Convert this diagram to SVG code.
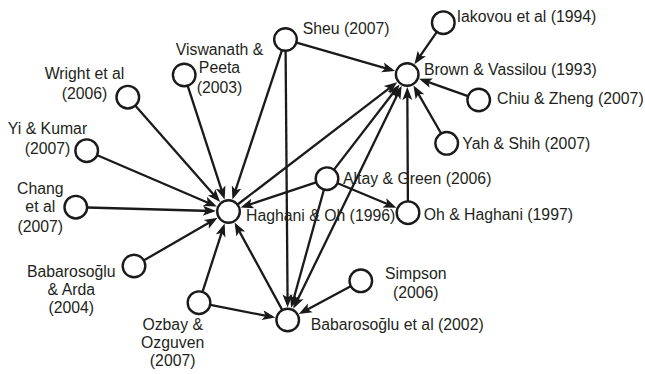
<svg xmlns="http://www.w3.org/2000/svg" width="645" height="374" viewBox="0 0 645 374">
<defs>
<marker id="ah" markerUnits="userSpaceOnUse" markerWidth="14" markerHeight="10" refX="9" refY="5" orient="auto-start-reverse" overflow="visible">
<path d="M0,0 L13,5 L0,10 L3,5 Z" fill="#1a1a1a"/>
</marker>
<style>
.edges line{stroke:#1a1a1a;stroke-width:2.3;fill:none;marker-end:url(#ah)}
.edges line.both{marker-start:url(#ah)}
.node circle{fill:#fff;stroke:#1a1a1a;stroke-width:2.4}
.node text{font-family:"Liberation Sans",Arial,Helvetica,sans-serif;font-size:15.8px;fill:#231f20}
.node text.c{text-anchor:middle}
</style>
</defs>
<rect width="645" height="374" fill="#fff"/>
<g id="connectors" class="edges">
<line x1="436.7" y1="32.1" x2="416.7" y2="60.9"/>
<line x1="296.6" y1="42.7" x2="391.2" y2="69.9"/>
<line x1="467.9" y1="96.1" x2="422.8" y2="80.1"/>
<line x1="441.0" y1="133.3" x2="415.5" y2="88.9"/>
<line x1="407.9" y1="201.2" x2="407.3" y2="91.1"/>
<line x1="334.0" y1="169.6" x2="397.1" y2="87.7"/>
<line x1="237.6" y1="204.5" x2="394.0" y2="84.6"/>
<line class="both" x1="295.0" y1="305.1" x2="399.9" y2="89.4"/>
<line x1="337.6" y1="183.2" x2="392.7" y2="206.3"/>
<line x1="316.1" y1="182.3" x2="244.3" y2="206.3"/>
<line x1="323.9" y1="189.8" x2="292.2" y2="304.0"/>
<line x1="281.9" y1="50.4" x2="233.7" y2="195.7"/>
<line x1="285.6" y1="51.0" x2="287.6" y2="303.4"/>
<line x1="187.7" y1="85.9" x2="223.4" y2="195.7"/>
<line x1="135.4" y1="105.8" x2="217.5" y2="199.0"/>
<line x1="97.3" y1="155.2" x2="213.2" y2="205.0"/>
<line x1="87.3" y1="207.5" x2="211.9" y2="211.0"/>
<line x1="144.0" y1="260.3" x2="214.1" y2="219.8"/>
<line x1="202.5" y1="291.8" x2="223.4" y2="227.3"/>
<line x1="210.3" y1="304.9" x2="271.4" y2="316.8"/>
<line x1="282.2" y1="309.9" x2="236.5" y2="226.1"/>
<line x1="350.7" y1="286.2" x2="302.3" y2="312.2"/>
</g>
<g id="sheu" class="node"><circle cx="285.5" cy="39.5" r="11.3"/><text x="302.7" y="34">Sheu (2007)</text></g>
<g id="iakovou" class="node"><circle cx="443.3" cy="22.7" r="11.3"/><text x="456.7" y="22">Iakovou et al (1994)</text></g>
<g id="brown" class="node"><circle cx="407.2" cy="74.5" r="11.3"/><text x="424" y="74.5">Brown &amp; Vassilou (1993)</text></g>
<g id="chiu" class="node"><circle cx="478.7" cy="100" r="11.3"/><text x="497" y="104">Chiu &amp; Zheng (2007)</text></g>
<g id="yah" class="node"><circle cx="446.7" cy="143.3" r="11.3"/><text x="462.3" y="149">Yah &amp; Shih (2007)</text></g>
<g id="altay" class="node"><circle cx="327" cy="178.7" r="11.3"/><text x="343" y="184">Altay &amp; Green (2006)</text></g>
<g id="haghani" class="node"><circle cx="228.5" cy="211.5" r="11.3"/><text x="246" y="221">Haghani &amp; Oh (1996)</text></g>
<g id="oh" class="node"><circle cx="408" cy="212.7" r="11.3"/><text x="423.7" y="220">Oh &amp; Haghani (1997)</text></g>
<g id="simpson" class="node"><circle cx="360.8" cy="280.8" r="11.3"/><text class="c" x="415.8" y="279">Simpson</text><text class="c" x="415.8" y="298.3">(2006)</text></g>
<g id="babarosoglu-2002" class="node"><circle cx="287.7" cy="320" r="11.3"/><text x="310.7" y="330">Babarosoğlu et al (2002)</text></g>
<g id="ozbay" class="node"><circle cx="199" cy="302.7" r="11.3"/><text class="c" x="172.7" y="330">Ozbay &amp;</text><text class="c" x="172.7" y="347.7">Ozguven</text><text class="c" x="172.7" y="366">(2007)</text></g>
<g id="babarosoglu-arda" class="node"><circle cx="134" cy="266" r="11.3"/><text class="c" x="71.3" y="276.5">Babarosoğlu</text><text class="c" x="71.3" y="295">&amp; Arda</text><text class="c" x="71.3" y="313.3">(2004)</text></g>
<g id="chang" class="node"><circle cx="75.8" cy="207.2" r="11.3"/><text class="c" x="40.3" y="194">Chang</text><text class="c" x="40.3" y="212.3">et al</text><text class="c" x="40.3" y="231.7">(2007)</text></g>
<g id="yi" class="node"><circle cx="86.7" cy="150.7" r="11.3"/><text class="c" x="47.5" y="134">Yi &amp; Kumar</text><text class="c" x="47.5" y="154">(2007)</text></g>
<g id="wright" class="node"><circle cx="127.8" cy="97.2" r="11.3"/><text class="c" x="84.5" y="79.3">Wright et al</text><text class="c" x="84.5" y="98.7">(2006)</text></g>
<g id="viswanath" class="node"><circle cx="184.2" cy="75" r="11.3"/><text class="c" x="219.5" y="54.7">Viswanath &amp;</text><text class="c" x="219.5" y="73.3">Peeta</text><text class="c" x="219.5" y="92.7">(2003)</text></g>
</svg>
